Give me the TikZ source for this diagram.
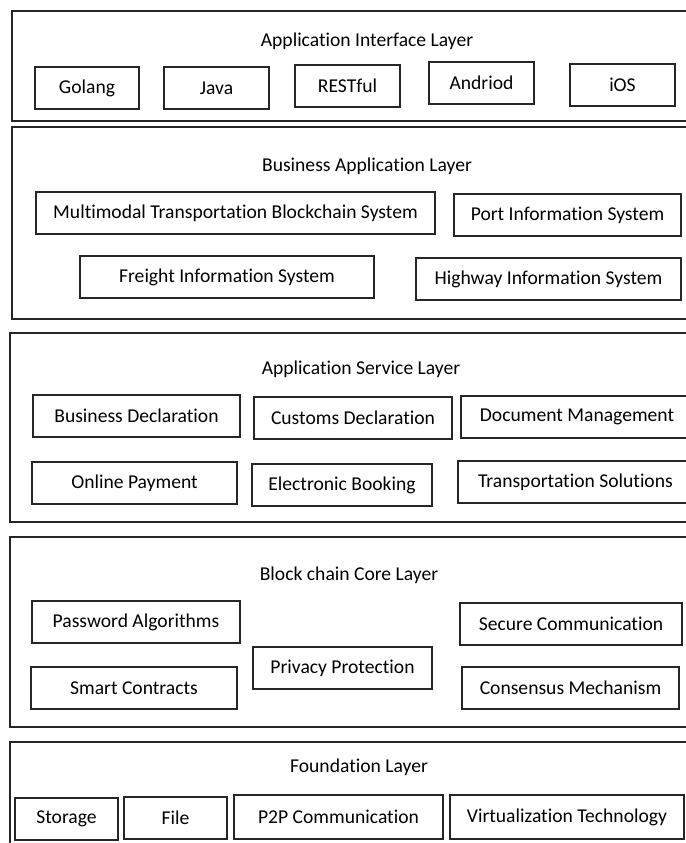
\documentclass[tikz,border=0pt]{standalone}
\usepackage{fontspec}
\setmainfont[Ligatures=NoCommon]{Carlito}

\begin{document}
\begin{tikzpicture}[x=0.5pt,y=-0.5pt,
  layer/.style = {draw=black!85, line width=0.8pt, inner sep=0pt, anchor=north west, minimum width=345pt},
  item/.style = {draw=black!85, line width=0.8pt, inner sep=0pt, minimum height=21pt},
  title/.style = {inner sep=0pt}
  ]
\useasboundingbox (0,0) rectangle (686,843);
\path[clip] (0,0) rectangle (686,843);
\fontsize{9.8}{12}\selectfont

% layers
\node[layer, minimum height=55pt] (iface) at (11,10) {};
\node[layer, minimum height=96pt] (bapp) at (11,126) {};
\node[layer, minimum height=94.5pt] (aserv) at (9,332) {};
\node[layer, minimum height=95pt] (core) at (9,536) {};
\node[layer, minimum height=60pt] (found) at (9,741) {};

\node[title] (ifacet) at (367,41) {Application Interface Layer};
\node[title] (bappt) at (367,166) {Business Application Layer};
\node[title] (aservt) at (361,369) {Application Service Layer};
\node[title] (coret) at (349,575) {Block chain Core Layer};
\node[title] (foundt) at (359,767) {Foundation Layer};

% application interface
\node[item, minimum width=52pt] (golang) at (87,88) {Golang};
\node[item, minimum width=52.5pt] (java) at (216.5,88) {Java};
\node[item, minimum width=52.5pt] (rest) at (347.5,86) {RESTful};
\node[item, minimum width=52.5pt] (andriod) at (481.5,83) {Andriod};
\node[item, minimum width=52.5pt] (ios) at (622.5,85) {iOS};

% business application
\node[item, minimum width=199.5pt] (mtbs) at (235.5,213) {Multimodal Transportation Blockchain System};
\node[item, minimum width=113.5pt] (port) at (567.5,215) {Port Information System};
\node[item, minimum width=147pt] (freight) at (227,277) {Freight Information System};
\node[item, minimum width=132.5pt] (highway) at (548.5,279) {Highway Information System};

% application service
\node[item, minimum width=103.5pt] (busdecl) at (136.5,416) {Business Declaration};
\node[item, minimum width=99pt] (custdecl) at (353,418) {Customs Declaration};
\node[item, minimum width=116pt] (docman) at (577,417) {Document Management};
\node[item, minimum width=102.5pt] (payment) at (134.5,483) {Online Payment};
\node[item, minimum width=90pt] (booking) at (342,485) {Electronic Booking};
\node[item, minimum width=117.5pt] (solutions) at (575.5,482) {Transportation Solutions};

% block chain core
\node[item, minimum width=104pt] (passwd) at (136,622) {Password Algorithms};
\node[item, minimum width=103pt] (contracts) at (134,688) {Smart Contracts};
\node[item, minimum width=89.5pt] (privacy) at (342.5,668) {Privacy Protection};
\node[item, minimum width=111pt] (securecom) at (571,624) {Secure Communication};
\node[item, minimum width=108.5pt] (consensus) at (570.5,688) {Consensus Mechanism};

% foundation
\node[item, minimum width=51.5pt] (storage) at (66.5,819) {Storage};
\node[item, minimum width=51.5pt] (file) at (175.5,818) {File};
\node[item, minimum width=104.5pt, minimum height=22pt] (ptp) at (338.5,817) {P2P Communication};
\node[item, minimum width=117pt, minimum height=22pt] (virt) at (567,817) {Virtualization Technology};

\end{tikzpicture}
\end{document}
